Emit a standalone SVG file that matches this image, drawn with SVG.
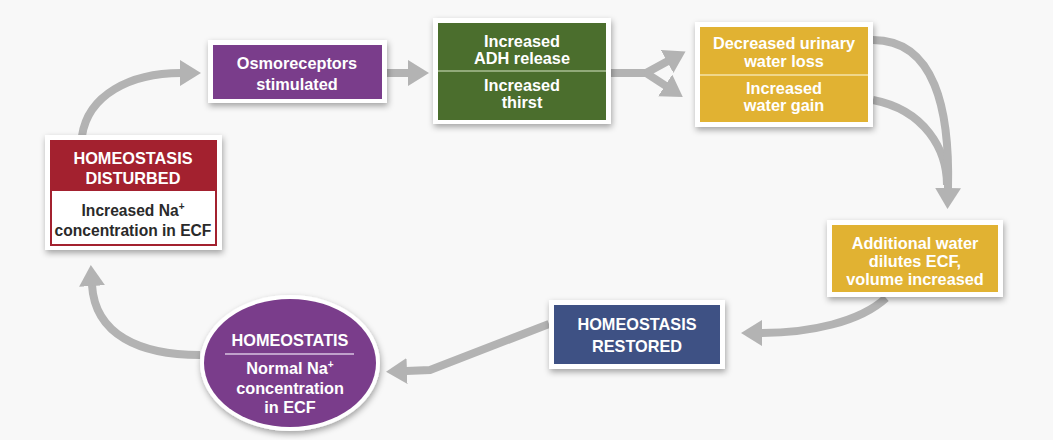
<svg xmlns="http://www.w3.org/2000/svg" width="1053" height="440" viewBox="0 0 1053 440">
<defs>
<filter id="sh" x="-10%" y="-10%" width="125%" height="130%">
<feDropShadow dx="1" dy="3" stdDeviation="3" flood-color="#000" flood-opacity="0.35"/>
</filter>
<marker id="ah" markerUnits="userSpaceOnUse" markerWidth="24" markerHeight="28" refX="1" refY="13" orient="auto">
<path d="M0,0 L21,13 L0,26 Z" fill="#b3b3b3"/>
</marker>
<style>
.frame{fill:#ffffff;filter:url(#sh)}
.t{font-family:"Liberation Sans",Arial,sans-serif;font-weight:700;font-size:16.3px;text-anchor:middle;fill:#ffffff}
.d{fill:#2a2a2a;font-size:15.6px}
.c{fill:none;stroke:#b3b3b3;stroke-width:8;marker-end:url(#ah)}
.cn{fill:none;stroke:#b3b3b3;stroke-width:8}
</style>
</defs>
<rect width="1053" height="440" fill="#f8f8f8"/>

<g id="connectors">
<path class="c" d="M82,136 C 88,95 130,73 181,73"/>
<path class="c" d="M387,73 L409,73"/>
<path class="cn" d="M611,73 L648,73"/>
<path class="c" d="M646,73 L668,61"/>
<path class="c" d="M646,73 L666,86"/>
<path class="cn" d="M873,100 C 925,110 947,150 947,185"/>
<path class="c" d="M873,40 C 935,40 950,110 948,189"/>
<path class="c" d="M886,298 C 860,322 810,333 761,333"/>
<path class="c" d="M549,324 L430,370 L406,371"/>
<path class="c" d="M200,355 C 140,355 95,335 92,285"/>
</g>

<g id="osmoreceptors">
<rect class="frame" x="208" y="40" width="179" height="63"/>
<rect x="213" y="45" width="169" height="54" fill="#7a3d8b"/>
<text class="t" x="297" y="69">Osmoreceptors</text>
<text class="t" x="297" y="90">stimulated</text>
</g>

<g id="disturbed">
<rect class="frame" x="45" y="135" width="177" height="115"/>
<rect x="50" y="140" width="167" height="50" fill="#a3212f"/>
<rect x="51" y="190" width="165" height="55" fill="#ffffff" stroke="#a3212f" stroke-width="2"/>
<text class="t" x="133" y="164">HOMEOSTASIS</text>
<text class="t" x="133" y="184">DISTURBED</text>
<text class="t d" x="133" y="216">Increased Na<tspan font-size="10" dy="-6">+</tspan></text>
<text class="t d" x="133" y="236">concentration in ECF</text>
</g>

<g id="adh">
<rect class="frame" x="433" y="18" width="178" height="106"/>
<rect x="438" y="23" width="168" height="97" fill="#4b6e2d"/>
<line x1="438" y1="71" x2="606" y2="71" stroke="#a9bf93" stroke-width="1.5"/>
<text class="t" x="522" y="47">Increased</text>
<text class="t" x="522" y="64">ADH release</text>
<text class="t" x="522" y="91">Increased</text>
<text class="t" x="522" y="108">thirst</text>
</g>

<g id="water">
<rect class="frame" x="695" y="22" width="178" height="105"/>
<rect x="700" y="27" width="168" height="95" fill="#e1b232"/>
<line x1="700" y1="75" x2="868" y2="75" stroke="#f5e3a8" stroke-width="1.5"/>
<text class="t" x="784" y="49">Decreased urinary</text>
<text class="t" x="784" y="67">water loss</text>
<text class="t" x="784" y="94">Increased</text>
<text class="t" x="784" y="111">water gain</text>
</g>

<g id="dilutes">
<rect class="frame" x="827" y="220" width="176" height="77"/>
<rect x="832" y="225" width="166" height="67" fill="#e1b232"/>
<text class="t" x="915" y="249">Additional water</text>
<text class="t" x="915" y="267">dilutes ECF,</text>
<text class="t" x="915" y="285">volume increased</text>
</g>

<g id="restored">
<rect class="frame" x="549" y="300" width="176" height="69"/>
<rect x="554" y="305" width="166" height="59" fill="#3e5184"/>
<text class="t" x="637" y="330">HOMEOSTASIS</text>
<text class="t" x="637" y="352">RESTORED</text>
</g>

<g id="homeostatis">
<ellipse cx="290" cy="363" rx="90" ry="68" fill="#ffffff" filter="url(#sh)"/>
<ellipse cx="290" cy="363" rx="86" ry="64" fill="#7a3d8b"/>
<line x1="225" y1="354" x2="354" y2="354" stroke="#d9c3e0" stroke-width="1.5"/>
<text class="t" x="290" y="346">HOMEOSTATIS</text>
<text class="t" x="290" y="374">Normal Na<tspan font-size="10" dy="-6">+</tspan></text>
<text class="t" x="290" y="394">concentration</text>
<text class="t" x="290" y="413">in ECF</text>
</g>
</svg>
